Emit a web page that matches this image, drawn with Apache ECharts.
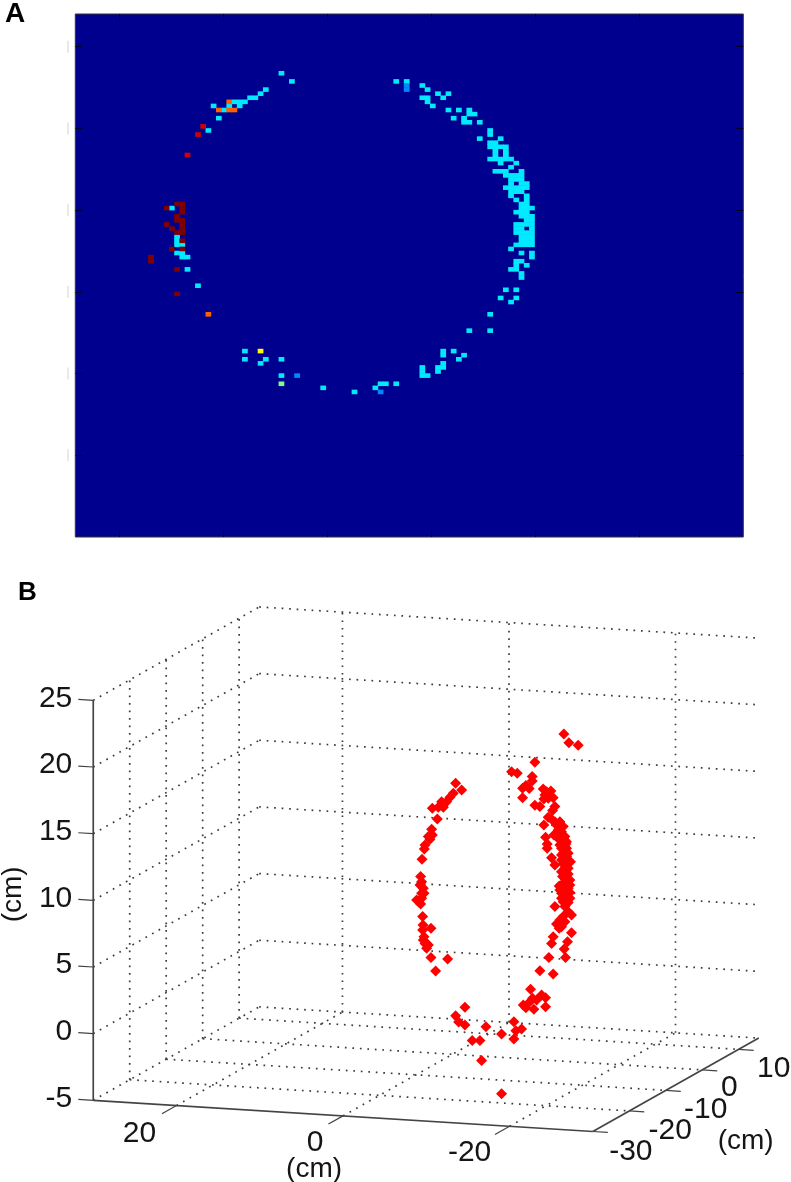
<!DOCTYPE html>
<html>
<head>
<meta charset="utf-8">
<style>html,body{margin:0;padding:0;background:#fff}#c{width:791px;height:1182px}</style>
<script src="https://cdn.jsdelivr.net/npm/echarts@6/dist/echarts.min.js"></script>
</head>
<body>
<div id="c"></div>
<script>
// ---- Panel A: [column, row] cells of a 128 x 128 image, grouped by intensity ----
const imageSize = 128;
const imageTickCols = [8.4, 28.4, 48.3, 68.2, 88.1, 108];
const imageTickRows = [8, 28, 48, 68, 88, 108];
const levelCyan = 0.355, levelBlue = 0.26, levelAqua = 0.5, levelYellow = 0.63, levelOrange = 0.78, levelRed = 0.92, levelDark = 1;
const cellsCyan = [
  [39,14],[41,16],[36,18],[35,19],[33,20],[34,20],[30,21],[31,21],[32,21],[29,22],[31,22],[26,22],[28,23],[27,25],[25,28],
  [18,47],[19,54],[19,55],[19,56],[20,56],[19,58],[20,58],[20,59],[21,59],[21,62],[23,66],
  [32,82],[32,84],[36,84],[39,84],[35,85],[39,88],
  [61,16],[63,16],[66,17],[67,18],[66,20],[67,20],[67,21],[68,22],[69,19],[70,20],[71,19],[71,23],[73,23],[75,23],[75,24],[76,24],
  [72,25],[74,25],[74,26],[75,26],[77,26],[79,28],[79,29],[77,30],[81,30],[79,31],[80,31],[79,32],[80,32],[81,32],[82,32],
  [80,33],[82,33],[80,34],[82,34],[79,35],[80,35],[81,35],[82,35],[81,36],[83,35],[84,36],[83,37],[80,38],[81,38],[82,38],[85,38],
  [82,39],[83,39],[84,39],[85,39],[83,40],[84,40],[85,40],[83,41],[85,41],[86,41],[82,42],[83,42],[84,42],[85,42],[86,42],
  [83,43],[84,43],[85,43],[83,44],[86,44],[84,45],[86,45],[85,46],[86,46],[85,47],[86,47],[87,47],[84,48],[85,48],[86,48],
  [85,49],[86,49],[87,49],[86,50],[87,50],[84,51],[85,51],[86,51],[87,51],[84,52],[85,52],[87,52],[84,53],[85,53],[86,53],[87,53],
  [85,54],[86,54],[87,54],[85,55],[86,55],[87,55],[84,56],[85,56],[86,56],[87,56],[83,57],
  [85,58],[87,58],[87,59],[84,60],[85,60],[84,61],[86,61],[83,62],[84,62],[85,63],[85,64],[82,67],[84,67],[81,69],[84,69],[83,70],
  [79,73],[75,77],[79,77],[70,82],[70,83],[72,82],[74,83],[73,84],[70,85],[70,86],[69,86],[69,87],[66,86],[66,87],[66,88],[67,88],
  [61,90],[58,90],[59,90],[57,91],[53,92],[47,91]
];
const cellsBlue = [[42,88],[63,17],[63,18],[58,92]];
const cellsAqua = [[39,90]];
const cellsYellow = [[35,82]];
const cellsOrange = [[29,21],[27,23],[29,23],[30,23],[25,73]];
const cellsRed = [[24,27],[23,29],[21,34]];
const cellsDark = [
  [19,46],[20,46],[20,47],[20,48],[17,47],[19,49],[19,50],[20,50],[20,51],[20,52],[20,53],[17,51],[18,52],[19,53],
  [20,55],[18,57],[20,57],[14,59],[14,60],[19,62],[19,68]
];

// ---- Panel B: axis ticks in cm ----
const xTicks = [20, 0, -20];
const yTicks = [-30, -20, -10, 0, 10];
const yGridTicks = [-20, -10, 0, 10];
const zTicks = [25, 20, 15, 10, 5, 0, -5];
const xRange = [30, -30];
const yRange = [-30, 15.5];
const zRange = [-5, 25];
// Red points read in the picture plane: horizontal position and height, in cm
const pointsH = [
  26.52,27.12,28.24,23.04,20.24,20.92,22.72,22.72,21.96,21.56,22.36,21.56,24.04,24.44,24.96,24.24,24.64,25.24,24.12,23.04,23.64,25.44,25.16,
  24.64,25.04,25.44,26.04,25.64,26.44,24.12,24.32,24.52,24.52,25.04,25.44,
  26.36,26.52,26.04,25.32,25.64,26.76,26.24,26.64,27.04,26.24,26.64,27.16,26.44,26.76,27.04,26.36,26.72,27.24,26.44,25.96,26.76,27.24,26.24,
  26.64,26.44,27.04,25.44,26.64,27.04,26.44,27.44,
  26.04,25.84,26.24,26.64,26.84,26.04,26.44,26.84,26.44,26.84,26.24,26.84,27.32,26.64,26.24,27.04,26.64,27.24,26.76,27.04,26.44,26.84,26.04,26.84,26.24,27.24,
  26.04,26.64,25.64,26.24,25.96,27.44,25.24,25.04,26.96,26.56,24.72,26.72,23.64,25.24,22.52,23.84,24.32,22.76,22.44,23.24,21.64,21.96,24.32,22.92,
  20.52,21.44,20.76,20.52,19.04,17.16,14.64,13.52,13.88,14.64,15.52,16.44,16.64,19.04,
  9.6,10.56,9.56,9.72,9.64,10.04,10.24,9.84,10.04,10.56,12.56,11.12,
  13.52,14.24,13.24,12.84,12.44,11.84,11.44,12.04,10.72,11.32,10.64,10.72,10.24,10.44,9.84,9.76,9.48,9.32,9.44,9.24,9.64,9.44,9.72,8.84,9.44,9.32,9.56
];
const pointsV = [
  22.48,21.83,21.63,20.35,19.65,19.53,19.28,18.95,18.61,18.4,18.38,17.7,18.35,18.15,18.2,17.9,17.65,17.7,17.6,17.13,17.03,17.03,16.73,
  16.23,16.08,15.9,15.9,15.65,15.53,15.65,14.73,14.23,13.9,13.2,12.65,
  14.9,14.58,14.53,14.9,14.78,14.23,13.9,13.65,13.53,13.4,13.15,12.9,12.73,12.28,11.98,11.78,11.58,11.53,11.28,11.08,10.9,10.58,10.53,
  10.28,9.9,9.83,9.53,9.53,9.15,8.78,8.9,
  14.9,15.28,15.15,14.78,14.4,14.15,14.15,13.9,13.53,13.28,13.03,12.78,12.9,12.4,12.15,12.4,11.9,11.15,11.15,10.9,10.78,10.53,10.78,10.03,10.15,10.15,
  8.52,8.4,8.22,8.02,7.9,7.57,7.27,6.77,6.9,6.35,5.72,5.72,4.72,4.47,3.32,2.9,2.7,2.65,2.4,2.52,2.15,1.95,2.02,1.82,
  0.9,0.35,0.22,-0.41,-0.03,0.52,1.97,1.35,0.87,0.65,-0.51,-0.51,-2.01,-4.51,
  8.15,7.9,7.77,7.27,7.02,6.77,6.65,6.77,6.4,5.72,5.6,4.7,
  18.78,18.28,18.03,17.73,17.4,17.4,16.98,16.98,16.9,16.1,15.33,14.9,14.78,14.58,14.15,13.85,13.08,11.78,11.4,11.15,10.9,10.53,10.53,10.03,10.15,9.73,8.78
];

// ---- Orthographic view of the 3-D box onto the picture plane ----
const VIEW_H_Y = 0.438, VIEW_V_X = 0.039, VIEW_V_Y = 0.154;
function project(x, y, z) {
  return [-x + (y - yRange[0]) * VIEW_H_Y, z + (x - xRange[0]) * VIEW_V_X + (y - yRange[0]) * VIEW_V_Y];
}

// ---- Styles ----
const FONT = '"Liberation Sans", Arial, sans-serif';
const LABEL_SIZE = 30, TITLE_SIZE = 28, LABEL_COLOR = '#151515';
const AXIS_COLOR = '#444', DOT_COLOR = '#3c3c3c';
const xLabelOffsets = [[-37,28],[-28,27],[-40,26]];
const yLabelOffsets = [[38,20],[41,20],[40,19],[27,18],[35,19]];

const jet = ['#00008f','#0000ff','#007fff','#00ffff','#7fff7f','#ffff00','#ff7f00','#ff0000','#800000'];
const withLevel = (cells, level) => cells.map(c => [c[0], c[1], level]);
const heatData = [].concat(
  withLevel(cellsCyan, levelCyan), withLevel(cellsBlue, levelBlue), withLevel(cellsAqua, levelAqua),
  withLevel(cellsYellow, levelYellow), withLevel(cellsOrange, levelOrange), withLevel(cellsRed, levelRed), withLevel(cellsDark, levelDark));
const cats = Array.from({length: imageSize}, (_, i) => i);

const A = {left: 75.3, top: 14, width: 668, height: 523};
const tickAxis = (common) => Object.assign({
  type: 'value', gridIndex: 1, min: 0, max: imageSize, z: 10, splitLine: {show: false},
  axisLine: {show: false, onZero: false}, axisLabel: {show: false}
}, common);
const imgTick = (vals) => ({show: true, inside: true, length: 7, customValues: vals, lineStyle: {color: '#000022', width: 1}});

const B_X = 3, B_Y = 3;
const series = [];
series.push({
  type: 'heatmap', xAxisIndex: 0, yAxisIndex: 0, data: heatData, silent: true, animation: false, progressive: 0,
  itemStyle: {borderWidth: 0}
});
// pale stubs left of the image
series.push({
  type: 'scatter', xAxisIndex: 1, yAxisIndex: 1, clip: false, silent: true, animation: false, symbol: 'rect', symbolSize: [1.5, 12],
  itemStyle: {color: '#e2e2e2', opacity: 1}, data: imageTickRows.map(r => [-1.4, r])
});

function line3d(a, b, style) {
  series.push({
    type: 'line', xAxisIndex: B_X, yAxisIndex: B_Y, symbol: 'none', silent: true, animation: false, clip: false,
    data: [project.apply(null, a), project.apply(null, b)], lineStyle: style, z: 1
  });
}
const dot = {color: DOT_COLOR, width: 1.7, type: [1.7, 5.8]};
const solid = {color: AXIS_COLOR, width: 1.7};
const tickStyle = {color: AXIS_COLOR, width: 1.2};
const [x0, x1] = xRange, [y0, y1] = yRange, [z0, z1] = zRange;
// wall and floor grids
zTicks.forEach(z => { line3d([x0,y0,z],[x0,y1,z],dot); line3d([x0,y1,z],[x1,y1,z],dot); });
yGridTicks.forEach(y => { line3d([x0,y,z0],[x0,y,z1],dot); line3d([x0,y,z0],[x1,y,z0],dot); });
xTicks.forEach(x => { line3d([x,y1,z0],[x,y1,z1],dot); line3d([x,y0,z0],[x,y1,z0],dot); });
// box axes
line3d([x0,y0,z0],[x0,y0,z1],solid);
line3d([x0,y0,z0],[x1,y0,z0],solid);
line3d([x1,y0,z0],[x1,y1,z0],solid);
// ticks
zTicks.forEach(z => line3d([x0,y0,z],[x0+1.8,y0,z],tickStyle));
xTicks.forEach(x => line3d([x,y0,z0],[x,y0-4,z0],tickStyle));
yTicks.forEach(y => line3d([x1,y,z0],[x1-1.8,y,z0],tickStyle));

// red points
series.push({
  type: 'scatter', xAxisIndex: B_X, yAxisIndex: B_Y, symbol: 'diamond', symbolSize: 11, silent: true, animation: false, z: 3,
  itemStyle: {color: '#ff0000', opacity: 1}, data: pointsH.map((h, i) => [h, pointsV[i]])
});

// tick labels and axis titles
function labelPoint(text, pos, offset, extra) {
  return {
    value: pos,
    label: Object.assign({show: true, formatter: text, position: offset, align: 'center', verticalAlign: 'middle', fontFamily: FONT, fontSize: LABEL_SIZE, color: LABEL_COLOR}, extra || {})
  };
}
const labelData = [];
zTicks.forEach(z => labelData.push(labelPoint(String(z), project(x0,y0,z), [-21,-2], {align: 'right'})));
xTicks.forEach((x, i) => labelData.push(labelPoint(String(x), project(x,y0,z0), xLabelOffsets[i])));
yTicks.forEach((y, i) => labelData.push(labelPoint(String(y), project(x1,y,z0), yLabelOffsets[i])));
labelData.push(labelPoint('(cm)', project(0,y0,z0), [-29,53], {fontSize: TITLE_SIZE}));
labelData.push(labelPoint('(cm)', project(x1,10,z0), [7,92], {fontSize: TITLE_SIZE}));
labelData.push(labelPoint('(cm)', project(x0,y0,10), [-80,-6], {rotate: 90, fontSize: TITLE_SIZE}));
series.push({
  type: 'scatter', xAxisIndex: B_X, yAxisIndex: B_Y, symbolSize: 0, silent: true, animation: false, clip: false, z: 4,
  itemStyle: {color: 'transparent', opacity: 1}, data: labelData
});

const chart = echarts.init(document.getElementById('c'), null, {renderer: 'canvas'});
chart.setOption({
  animation: false,
  backgroundColor: '#fff',
  grid: [
    Object.assign({show: true, backgroundColor: jet[0], borderColor: '#333', borderWidth: 1, containLabel: false}, A),
    Object.assign({}, A),
    {left: 0, width: 791, top: 560.4, height: 621.2}
  ],
  visualMap: {show: false, type: 'continuous', min: 0, max: 1, seriesIndex: 0, inRange: {color: jet}},
  xAxis: [
    {type: 'category', gridIndex: 0, data: cats, show: false},
    tickAxis({position: 'bottom', axisTick: imgTick(imageTickCols)}),
    tickAxis({position: 'top', axisTick: imgTick(imageTickCols)}),
    {type: 'value', gridIndex: 2, min: -41.2, max: 53.8, show: false, splitLine: {show: false}}
  ],
  yAxis: [
    {type: 'category', gridIndex: 0, data: cats, inverse: true, show: false},
    tickAxis({position: 'left', inverse: true, axisTick: imgTick(imageTickRows)}),
    tickAxis({position: 'right', inverse: true, axisTick: imgTick(imageTickRows)}),
    {type: 'value', gridIndex: 2, min: -11.1, max: 35.5, show: false, splitLine: {show: false}}
  ],
  graphic: [
    {type: 'text', left: 5, top: 0, style: {text: 'A', font: 'bold 28px ' + FONT, fill: '#000'}},
    {type: 'text', left: 18, top: 580, style: {text: 'B', font: 'bold 26px ' + FONT, fill: '#000'}}
  ],
  series: series
});
</script>
</body>
</html>
